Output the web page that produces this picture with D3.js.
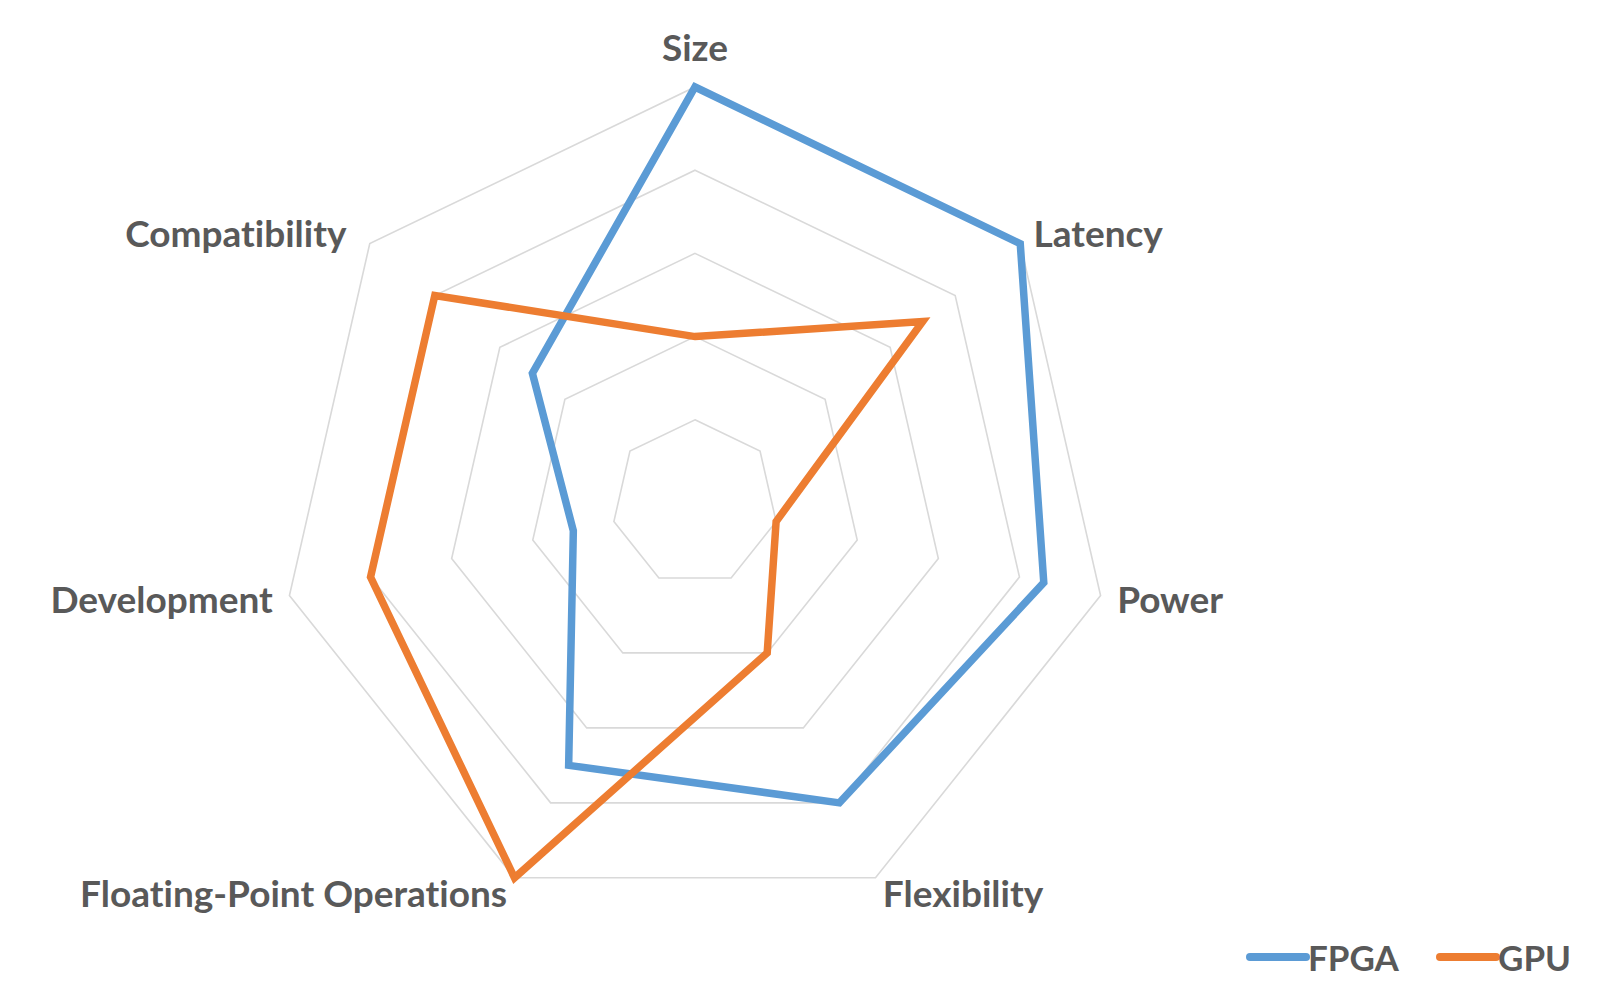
<!DOCTYPE html>
<html>
<head>
<meta charset="utf-8">
<script src="https://cdn.jsdelivr.net/npm/d3@7"></script>
<style>
  html, body { margin: 0; padding: 0; background: #ffffff; }
  svg { display: block; }
  text { font-family: Lato, "Open Sans", sans-serif; font-weight: 700; fill: #595959; font-variant-ligatures: none; }
</style>
</head>
<body>
<svg id="chart" width="1600" height="1000"></svg>
<script>
// ---- data ----
const categories = ["Size", "Latency", "Power", "Flexibility", "Floating-Point Operations", "Development", "Compatibility"];
const fpgaValues = [5, 5, 4.3, 4, 3.5, 1.5, 2.5];
const gpuValues  = [2, 3.5, 1, 2, 5, 4, 4];
const seriesNames = ["FPGA", "GPU"];
const seriesColors = ["#5B9BD5", "#ED7D31"];
const gridLevels = [1, 2, 3, 4, 5];

// ---- layout ----
const svg = d3.select("#chart");
const cx = 695, cy = 503, R = 416;
const r = d3.scaleLinear().domain([0, 5]).range([0, R]);
const angle = d3.scalePoint().domain(categories.concat(["_end"])).range([0, 2 * Math.PI]);
const g = svg.append("g").attr("transform", `translate(${cx},${cy})`);

const radial = d3.lineRadial()
  .angle(d => angle(d.cat))
  .radius(d => r(d.v))
  .curve(d3.curveLinearClosed);

// grid rings
g.selectAll("path.grid")
  .data(gridLevels)
  .join("path")
  .attr("class", "grid")
  .attr("d", lv => radial(categories.map(c => ({ cat: c, v: lv }))))
  .attr("fill", "none")
  .attr("stroke", "#d9d9d9")
  .attr("stroke-width", 1.6);

// series
const series = [
  { name: seriesNames[0], values: fpgaValues, color: seriesColors[0] },
  { name: seriesNames[1], values: gpuValues, color: seriesColors[1] }
];
g.selectAll("path.series")
  .data(series)
  .join("path")
  .attr("class", "series")
  .attr("d", s => radial(categories.map((c, i) => ({ cat: c, v: s.values[i] }))))
  .attr("fill", "none")
  .attr("stroke", s => s.color)
  .attr("stroke-width", 7.5)
  .attr("stroke-linejoin", "miter");

// category labels
const fontSize = 37;
g.selectAll("text.cat")
  .data(categories)
  .join("text")
  .attr("class", "cat")
  .style("font-size", fontSize + "px")
  .each(function(c, i) {
    const a = angle(c);
    const s = Math.sin(a), co = Math.cos(a);
    const isTop = Math.abs(s) < 0.1;
    const rr = R + (isTop ? 40 : 17);
    // the upper-left label sits a little further from its vertex
    const extra = (s < 0 && co > 0) ? -10 : 0;
    const x = rr * s + extra;
    const y = -rr * co;
    const anchor = isTop ? "middle" : (s > 0 ? "start" : "end");
    d3.select(this)
      .attr("x", x)
      .attr("y", y + 14)
      .attr("text-anchor", anchor)
      .text(c);
  });

// legend
const legend = svg.append("g");
const legendX = [1250, 1440];
series.forEach((s, i) => {
  const lg = legend.append("g").attr("transform", `translate(${legendX[i]},957)`);
  lg.append("line")
    .attr("x1", 0).attr("x2", 56)
    .attr("y1", 0).attr("y2", 0)
    .attr("stroke", s.color)
    .attr("stroke-width", 8)
    .attr("stroke-linecap", "round");
  lg.append("text")
    .attr("x", 58)
    .attr("y", 14)
    .style("font-size", "35px")
    .text(s.name);
});
</script>
</body>
</html>
